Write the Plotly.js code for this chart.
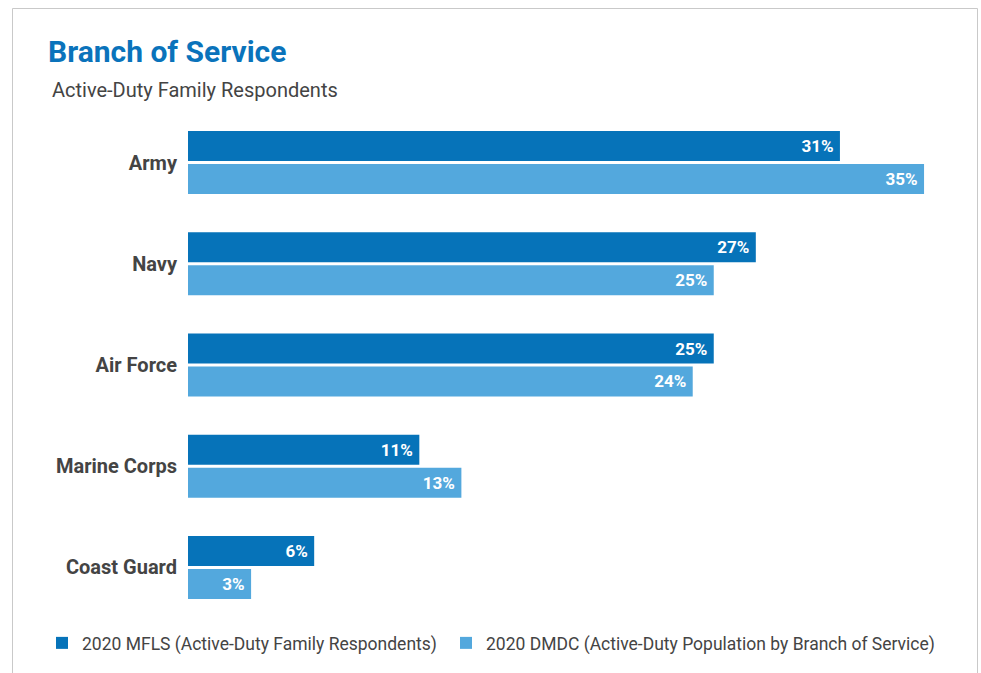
<!DOCTYPE html>
<html>
<head>
<meta charset="utf-8">
<script src="https://cdn.plot.ly/plotly-3.0.1.min.js"></script>
<style>html,body{margin:0;padding:0;background:#fff;}#chart{width:981px;height:673px;}</style>
</head>
<body>
<div id="chart"></div>
<script>
var categories = ["Army", "Navy", "Air Force", "Marine Corps", "Coast Guard"];
var mflsValues = [31, 27, 25, 11, 6];
var dmdcValues = [35, 25, 24, 13, 3];
var seriesNames = ["2020 MFLS (Active-Duty Family Respondents)", "2020 DMDC (Active-Duty Population by Branch of Service)"];
var titleText = "Branch of Service";
var subtitleText = "Active-Duty Family Respondents";

var W = 981, H = 673;
var ml = 188, mr = 36, mt = 112, mb = 55;
var pw = W - ml - mr, ph = H - mt - mb;
function px2x(px) { return (px - ml) / pw; }
function py2y(py) { return 1 - (py - mt) / ph; }

function pctLabels(arr) { return arr.map(function (v) { return v + "%\u2009"; }); }

var common = {
  type: "bar",
  orientation: "h",
  y: categories,
  textposition: "inside",
  insidetextanchor: "end",
  textfont: { family: "Roboto", size: 17, color: "#ffffff", weight: "bold" },
  hoverinfo: "skip",
  cornerradius: 2
};

var t1 = Object.assign({}, common, {
  name: seriesNames[0],
  x: mflsValues,
  text: pctLabels(mflsValues),
  marker: { color: "#0673b9" },
  legend: "legend"
});
var t2 = Object.assign({}, common, {
  name: seriesNames[1],
  x: dmdcValues,
  text: pctLabels(dmdcValues),
  marker: { color: "#53a8dd" },
  legend: "legend2"
});

var legendFont = { family: "Roboto", size: 17.5, color: "#444444" };

var layout = {
  width: W, height: H,
  margin: { l: ml, r: mr, t: mt, b: mb, pad: 0, autoexpand: false },
  paper_bgcolor: "#ffffff",
  plot_bgcolor: "#ffffff",
  font: { family: "Roboto", color: "#444444" },
  barmode: "group",
  bargap: 0.348,
  bargroupgap: 0.09,
  showlegend: true,
  legend: {
    orientation: "h",
    xref: "container", yref: "container",
    x: 42 / W, xanchor: "left",
    y: 1 - 643 / H, yanchor: "middle",
    font: legendFont,
    itemclick: false
  },
  legend2: {
    orientation: "h",
    xref: "container", yref: "container",
    x: 446 / W, xanchor: "left",
    y: 1 - 643 / H, yanchor: "middle",
    font: legendFont,
    itemclick: false
  },
  xaxis: {
    range: [0, (W - ml - mr) / 21.03],
    showgrid: false, zeroline: false, showticklabels: false, showline: false, ticks: ""
  },
  yaxis: {
    autorange: "reversed",
    showgrid: false, zeroline: false, showline: false, ticks: "",
    ticklabelstandoff: 10,
    tickfont: { family: "Roboto", size: 20, color: "#444444", weight: "bold" }
  },
  annotations: [
    {
      xref: "paper", yref: "paper",
      x: px2x(46), y: py2y(51), xanchor: "left", yanchor: "middle",
      text: "<b>" + titleText + "</b>", showarrow: false,
      font: { family: "Roboto", size: 30, color: "#0a73bb" }
    },
    {
      xref: "paper", yref: "paper",
      x: px2x(50), y: py2y(90), xanchor: "left", yanchor: "middle",
      text: subtitleText, showarrow: false,
      font: { family: "Roboto", size: 20, color: "#444444" }
    }
  ],
  shapes: [
    {
      type: "rect", xref: "paper", yref: "paper",
      x0: px2x(12.5), x1: px2x(977.5), y0: py2y(8.5), y1: py2y(700),
      line: { color: "#c9c9c9", width: 1 }, fillcolor: "rgba(0,0,0,0)", layer: "below"
    }
  ]
};

Plotly.newPlot("chart", [t1, t2], layout, { displayModeBar: false, staticPlot: true });
</script>
</body>
</html>
